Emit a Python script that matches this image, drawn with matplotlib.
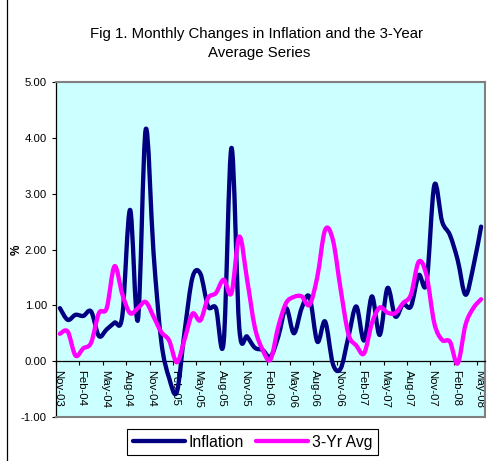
import numpy as np
import pandas as pd
import matplotlib
matplotlib.use("Agg")
import matplotlib.pyplot as plt
from matplotlib.path import Path
from matplotlib.patches import PathPatch
from matplotlib.lines import Line2D

plt.rcParams['font.family'] = ['Liberation Sans', 'DejaVu Sans']

# ---------------- data ----------------
months = list(pd.date_range('2003-11-01', periods=55, freq='MS').strftime('%b-%y'))

inflation = [0.95, 0.74, 0.83, 0.81, 0.89, 0.45, 0.57, 0.69, 0.81, 2.71,
             0.74, 4.15, 1.95, 0.35, -0.30, -0.55, 0.55, 1.50, 1.57, 0.98,
             0.95, 0.35, 3.82, 0.59, 0.44, 0.24, 0.20, 0.08, 0.44, 0.95,
             0.50, 0.95, 1.15, 0.35, 0.71, -0.05, -0.13, 0.44, 0.98, 0.37,
             1.16, 0.47, 1.31, 0.80, 1.02, 0.98, 1.54, 1.40, 3.15, 2.50,
             2.26, 1.81, 1.19, 1.69, 2.41]

avg3yr = [0.49, 0.53, 0.10, 0.23, 0.33, 0.86, 0.95, 1.70, 1.20, 0.86,
          0.95, 1.06, 0.80, 0.52, 0.37, -0.02, 0.40, 0.85, 0.73, 1.13,
          1.22, 1.46, 1.22, 2.23, 1.46, 0.60, 0.20, 0.03, 0.62, 1.04,
          1.15, 1.16, 1.01, 1.51, 2.35, 2.17, 1.28, 0.48, 0.28, 0.14,
          0.68, 0.96, 0.87, 0.86, 1.04, 1.19, 1.78, 1.54, 0.68, 0.38,
          0.35, -0.04, 0.65, 0.95, 1.11]

tick_labels = ['Nov-03', 'Feb-04', 'May-04', 'Aug-04', 'Nov-04', 'Feb-05', 'May-05',
               'Aug-05', 'Nov-05', 'Feb-06', 'May-06', 'Aug-06', 'Nov-06', 'Feb-07',
               'May-07', 'Aug-07', 'Nov-07', 'Feb-08', 'May-08']
y_ticks = [-1, 0, 1, 2, 3, 4, 5]

series_names = ['Inflation', '3-Yr Avg']
series_colors = ['#000080', '#FF00FF']

title_lines = ['Fig 1. Monthly Changes in Inflation and the 3-Year', 'Average Series']


def smooth_path(xs, ys):
    """Excel-like smoothed line: cubic Bezier through every data point."""
    n = len(xs)
    verts = [(xs[0], ys[0])]
    codes = [Path.MOVETO]
    for i in range(n - 1):
        a = i - 1 if i > 0 else i
        d = i + 2 if i + 2 < n else i + 1
        c1 = (xs[i] + (xs[i + 1] - xs[a]) / 6.0, ys[i] + (ys[i + 1] - ys[a]) / 6.0)
        c2 = (xs[i + 1] - (xs[d] - xs[i]) / 6.0, ys[i + 1] - (ys[d] - ys[i]) / 6.0)
        verts += [c1, c2, (xs[i + 1], ys[i + 1])]
        codes += [Path.CURVE4] * 3
    return Path(verts, codes)


# ---------------- figure ----------------
W, H = 495, 461
fig = plt.figure(figsize=(W / 100, H / 100), dpi=100, facecolor='white')

L, R, T, B = 56, 485, 82, 417
ax = fig.add_axes([L / W, 1 - B / H, (R - L) / W, (B - T) / H])
ax.set_facecolor('#CCFFFF')

x = np.arange(len(months))
for vals, col in zip([inflation, avg3yr], series_colors):
    p = PathPatch(smooth_path(x.astype(float), np.array(vals, float)), fill=False,
                  edgecolor=col, lw=3.1, capstyle='round', joinstyle='round', zorder=3)
    ax.add_patch(p)

ax.set_xlim(-0.5, len(months) - 0.5)
ax.set_ylim(-1, 5)

# spines
for s in ['top', 'right']:
    ax.spines[s].set_color('#808080')
    ax.spines[s].set_linewidth(1.5)
ax.spines['left'].set_color('black')
ax.spines['left'].set_linewidth(0.9)
ax.spines['bottom'].set_position(('data', 0))
ax.spines['bottom'].set_color('black')
ax.spines['bottom'].set_linewidth(0.9)
ax.add_line(Line2D([0, 1], [0, 0], transform=ax.transAxes, color='#808080',
                   lw=1.5, clip_on=False, zorder=4))

# x ticks: marks at category boundaries, labels slightly to the right
idx = np.arange(0, len(months), 3)
ax.set_xticks(idx - 0.5)
ax.set_xticklabels([])
ax.set_xticks(idx - 0.25, minor=True)
ax.set_xticklabels(tick_labels, minor=True, rotation=270, fontsize=8.2)
ax.tick_params(axis='x', which='major', direction='out', length=3, width=0.8, color='black')
ax.tick_params(axis='x', which='minor', length=0, pad=6.5)
for lbl in ax.get_xticklabels(minor=True):
    lbl.set_va('top')
    lbl.set_ha('center')

ax.set_yticks(y_ticks)
ax.set_yticklabels([f'{v:.2f}' for v in y_ticks], fontsize=8.2)
ax.tick_params(axis='y', direction='out', length=3, width=0.8, pad=3.5)

# y label
fig.text(17 / W, 1 - 250 / H, '%', rotation=90, ha='center', va='center',
         fontsize=8.5, fontweight='bold')

# title
fig.text(257 / W, 1 - 34 / H, title_lines[0], ha='center', va='center', fontsize=10.8)
fig.text(259 / W, 1 - 53 / H, title_lines[1], ha='center', va='center', fontsize=10.8)

# legend
handles = [Line2D([], [], color=c, lw=3.1, solid_capstyle='round') for c in series_colors]
leg = fig.legend(handles, series_names, loc='center', ncol=2,
                 bbox_to_anchor=(252.5 / W, 1 - 442 / H), fontsize=11.3,
                 frameon=True, fancybox=False, edgecolor='black', framealpha=1,
                 handlelength=3.3, handletextpad=0.25, columnspacing=0.75,
                 borderpad=0.35, borderaxespad=0)
leg.get_frame().set_linewidth(0.8)

# chart-area border (left edge visible)
fig.add_artist(Line2D([7 / W, 7 / W], [0, 1], transform=fig.transFigure,
                      color='black', lw=0.9))

fig.savefig('out.png', dpi=100, facecolor='white')
